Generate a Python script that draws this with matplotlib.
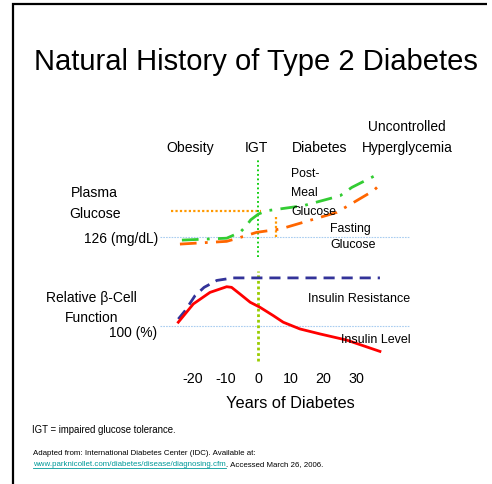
import numpy as np
import matplotlib
matplotlib.use("Agg")
import matplotlib.pyplot as plt
from matplotlib.lines import Line2D

plt.rcParams['font.family'] = ['Liberation Sans', 'DejaVu Sans']

# years of diabetes (x) and relative level (0-100, arbitrary)
post_meal_years = [-23.3, -9.6, -5.5, -3.7, -2.2, 0.1, 2.7, 6.5, 13.9, 25.1, 28.7, 34.8, 36.8]
post_meal_level = [59.0, 59.9, 62.7, 65.6, 68.7, 71.4, 73.0, 73.8, 75.4, 80.1, 84.1, 88.9, 90.5]

fasting_years = [-23.9, -9.6, -6.0, -0.4, 4.7, 6.9, 13.9, 24.1, 35.3, 37.5]
fasting_level = [57.1, 58.4, 60.0, 62.7, 63.8, 64.3, 67.5, 72.2, 82.5, 85.7]

resist_years = [-24.4, -22.3, -19.3, -16.5, -12.6, -7.6, 0.0, 37.3]
resist_level = [21.4, 25.4, 32.5, 36.5, 39.8, 41.0, 41.0, 41.0]

insulin_years = [-24.4, -19.8, -14.7, -9.6, -8.1, -5.5, -2.4, 0.6, 4.7, 7.7, 12.8, 19.0, 27.1, 37.3]
insulin_level = [19.9, 28.6, 34.1, 36.8, 36.5, 33.3, 29.4, 27.0, 23.0, 19.9, 16.7, 14.3, 11.4, 6.0]

glucose_126 = 60.5      # 126 mg/dL reference
beta_100 = 18.1         # 100 % beta-cell function reference
igt_level = 72.9        # glucose level at onset of diabetes
igt_marker_year = 5.5
igt_marker_low = 60.5
igt_marker_high = 70.5

year_ticks = [-20, -10, 0, 10, 20, 30]

W, H = 492, 485
fig = plt.figure(figsize=(W / 100, H / 100), dpi=100)


def fx(px):
    return px / W


def fy(py):
    return 1 - py / H


ax = fig.add_axes([fx(160), fy(365), fx(410) - fx(160), fy(155) - fy(365)])
ax.set_xlim(-30, 46.5)
ax.set_ylim(0, 100)
for s in ax.spines.values():
    s.set_visible(False)
ax.set_yticks([])
ax.set_xticks(year_ticks)
ax.set_xticklabels([str(t) for t in year_ticks], fontsize=10.3)
ax.tick_params(axis='x', length=0, pad=5)

# reference lines
ax.axhline(glucose_126, color="#a9cdf0", lw=0.8, ls=(0, (1.5, 1)))
ax.axhline(beta_100, color="#a9cdf0", lw=0.8, ls=(0, (1.5, 1)))
ax.plot([-26.5, 0.8], [igt_level, igt_level], color="#ff9900", lw=1.6, ls=(0, (1, 1)))
ax.plot([igt_marker_year] * 2, [igt_marker_low, igt_marker_high], color="#ff9900", lw=1.6, ls=(0, (1, 1)))
ax.plot([0, 0], [51, 97.6], color="#00cc00", lw=1.3, ls=(0, (1, 1.5)))
ax.plot([0, 0], [1.4, 44.3], color="#99cc00", lw=2.0, ls=(0, (1, 1)))

# glucose curves
dashdot = (0, (6, 3, 1, 3))
ax.plot(post_meal_years, post_meal_level, color="#33cc33", lw=2.0, ls=dashdot)
ax.plot(fasting_years, fasting_level, color="#ff6600", lw=2.0, ls=dashdot)

# beta-cell curves
ax.plot(resist_years, resist_level, color="#333399", lw=2.0, ls=(0, (4, 2.5)))
ax.plot(insulin_years, insulin_level, color="#ff0000", lw=2.0)


def label(px, py, s, size, ha='left', color='black'):
    return fig.text(fx(px), fy(py), s, fontsize=size, ha=ha, va='baseline', color=color)


label(255.5, 70, "Natural History of Type 2 Diabetes", 21.0, ha='center')

label(190, 152, "Obesity", 10.1, ha='center')
label(256.5, 152, "IGT", 10.1, ha='center')
label(320, 152, "Diabetes", 10.1, ha='center')
label(407, 130.7, "Uncontrolled", 9.9, ha='center')
label(407, 152, "Hyperglycemia", 9.9, ha='center')

label(94.5, 197.3, "Plasma", 10.1, ha='center')
label(94.5, 218, "Glucose", 10.1, ha='center')
label(158, 242.7, "126 (mg/dL)", 9.9, ha='right')
label(91.5, 301.7, "Relative \u03b2-Cell", 10.0, ha='center')
label(92, 321.7, "Function", 10.0, ha='center')
label(157, 336.7, "100 (%)", 9.9, ha='right')

label(291, 177.3, "Post-", 8.8)
label(291, 196, "Meal", 8.8)
label(291, 215, "Glucose", 8.8)
label(330, 231.7, "Fasting", 8.9)
label(330, 248.3, "Glucose", 8.9)
label(308, 302.3, "Insulin Resistance", 9.0)
label(341, 343.3, "Insulin Level", 9.0)

label(290.5, 408.3, "Years of Diabetes", 11.8, ha='center')

label(32, 432.7, "IGT = impaired glucose tolerance.", 6.9)
label(33, 455, "Adapted from: International Diabetes Center (IDC). Available at:", 5.7)
url = label(33, 466, "www.parknicollet.com/diabetes/disease/diagnosing.cfm", 5.7, color="#009999")
fig.canvas.draw()
bb = url.get_window_extent().transformed(fig.transFigure.inverted())
fig.add_artist(Line2D([bb.x0, bb.x1], [fy(468.7)] * 2, transform=fig.transFigure,
                      color="#009999", lw=0.6))
fig.text(bb.x1, fy(466), ". Accessed March 26, 2006.", fontsize=5.7, ha='left', va='baseline')

# slide frame (top and left edges only)
fig.add_artist(Line2D([fx(487), fx(13), fx(13)], [fy(5), fy(5), fy(486)],
                      transform=fig.transFigure, color='black', lw=1.6,
                      solid_capstyle='butt', solid_joinstyle='miter'))

fig.savefig("out.png", dpi=100)
